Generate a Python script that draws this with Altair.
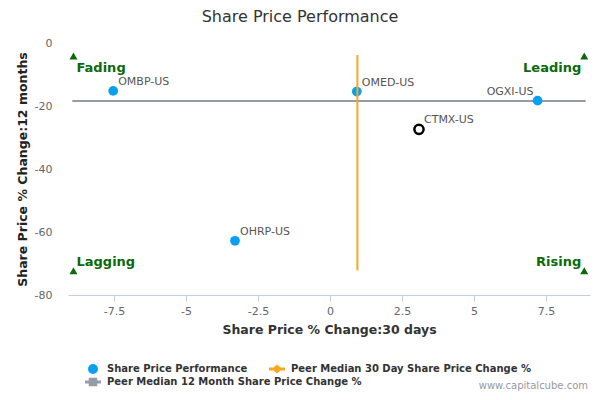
import altair as alt
import pandas as pd

# ---------------- data ----------------
TITLE = "Share Price Performance"
X_TITLE = "Share Price % Change:30 days"
Y_TITLE = "Share Price % Change:12 months"
WATERMARK = "www.capitalcube.com"

peer_names = ["OMBP-US", "OHRP-US", "OMED-US", "OGXI-US"]
peer_x = [-7.53, -3.30, 0.93, 7.21]
peer_y = [-15.2, -62.8, -15.4, -18.3]
label_left_of_point = ["OGXI-US"]

subject_names = ["CTMX-US"]
subject_x = [3.09]
subject_y = [-27.4]

median_30d = 0.95
median_30d_y_span = [-3.8, -72.2]
median_12m = -18.4
median_12m_x_span = [-8.95, 8.88]

quadrant_names = ["Fading", "Leading", "Lagging", "Rising"]
quadrant_x = [-8.91, 8.83, -8.91, 8.83]
quadrant_y = [-4.1, -4.1, -72.3, -72.3]

series_names = [
    "Share Price Performance",
    "Peer Median 30 Day Share Price Change %",
    "Peer Median 12 Month Share Price Change %",
]
series_colors = ["#0AA0F0", "#F7A823", "#959BA7"]
series_shapes = [
    "circle",
    "M-1.6,-0.3L1.6,-0.3L1.6,0.3L-1.6,0.3Z M0,-0.9L1.05,0L0,0.9L-1.05,0Z",
    "M-1.6,-0.3L1.6,-0.3L1.6,0.3L-1.6,0.3Z M-0.85,-0.85L0.85,-0.85L0.85,0.85L-0.85,0.85Z",
]

x_ticks = [-7.5, -5, -2.5, 0, 2.5, 5, 7.5]
y_ticks = [0, -20, -40, -60, -80]
x_domain = [-9.1, 9.03]
y_domain = [-80, 0]

FONT = "DejaVu Sans"
GREEN = "#0A6A0A"

# ---------------- tables ----------------
peers = pd.DataFrame({"name": peer_names, "x": peer_x, "y": peer_y,
                      "series": [series_names[0]] * len(peer_names)})
subject = pd.DataFrame({"name": subject_names, "x": subject_x, "y": subject_y})
vline = pd.DataFrame({"x": [median_30d], "y": [median_30d_y_span[0]], "y2": [median_30d_y_span[1]]})
hline = pd.DataFrame({"y": [median_12m], "x": [median_12m_x_span[0]], "x2": [median_12m_x_span[1]],
                      "series": [series_names[2]]})
quads = pd.DataFrame({"name": quadrant_names, "x": quadrant_x, "y": quadrant_y})
wm = pd.DataFrame({"t": [WATERMARK]})

x_axis = alt.Axis(values=x_ticks, labelExpr="datum.value + ''", title=X_TITLE, grid=False,
                  domainColor="#C0D0E0", tickColor="#C0D0E0", tickSize=6, labelColor="#666666",
                  labelFontSize=11, labelPadding=4, titleFontSize=12.5, titleFontWeight="bold",
                  titleColor="#333333", titlePadding=7)
y_axis = alt.Axis(values=y_ticks, labelExpr="datum.value + ''", title=Y_TITLE, grid=False,
                  domain=False, ticks=False, tickSize=0, labelColor="#666666", labelFontSize=11,
                  labelPadding=16, titleFontSize=12.5, titleFontWeight="bold", titleColor="#222222",
                  titlePadding=5)

xs = alt.Scale(domain=x_domain, nice=False, zero=False)
ys = alt.Scale(domain=y_domain, nice=False, zero=False)


def X(field="x"):
    return alt.X(f"{field}:Q", scale=xs, axis=x_axis)


def Y(field="y"):
    return alt.Y(f"{field}:Q", scale=ys, axis=y_axis)


legend_common = dict(title=None, orient="none", legendX=20, direction="horizontal",
                     labelFont=FONT, labelFontSize=10, labelFontWeight="bold",
                     labelColor="#333333", symbolSize=100, labelOffset=9, columnPadding=21,
                     symbolStrokeWidth=0, padding=0, symbolOpacity=1, labelLimit=0)
legend_a = alt.Legend(legendY=321, **legend_common)
legend_b = alt.Legend(legendY=334, symbolType=series_shapes[2], symbolFillColor=series_colors[2],
                      **legend_common)

grey_line = alt.Chart(hline).mark_rule(strokeWidth=2).encode(
    x=X(), x2="x2:Q", y=Y(),
    stroke=alt.Stroke("series:N", scale=alt.Scale(domain=series_names[2:], range=series_colors[2:]),
                      legend=legend_b),
)

points = alt.Chart(peers).mark_point(filled=True, opacity=1, size=95).encode(
    x=X(), y=Y(),
    color=alt.Color("series:N", scale=alt.Scale(domain=series_names[:2], range=series_colors[:2]),
                    legend=legend_a),
    shape=alt.Shape("series:N", scale=alt.Scale(domain=series_names[:2], range=series_shapes[:2]),
                    legend=legend_a),
)

orange_line = alt.Chart(vline).mark_rule(color=series_colors[1], strokeWidth=2).encode(
    x=X(), y=Y(), y2="y2:Q")

subject_pt = alt.Chart(subject).mark_point(filled=False, color="#000000", strokeWidth=2.5,
                                           size=85, opacity=1, shape="circle").encode(x=X(), y=Y())

lbl_style = dict(fontSize=11, color="#555555", font=FONT, baseline="middle", dy=-9)
peer_lbl_r = alt.Chart(peers).transform_filter(
    ~alt.FieldOneOfPredicate(field="name", oneOf=label_left_of_point)
).mark_text(align="left", dx=5, **lbl_style).encode(x=X(), y=Y(), text="name:N")
peer_lbl_l = alt.Chart(peers).transform_filter(
    alt.FieldOneOfPredicate(field="name", oneOf=label_left_of_point)
).mark_text(align="right", dx=-4, **lbl_style).encode(x=X(), y=Y(), text="name:N")
subj_lbl = alt.Chart(subject).mark_text(align="left", dx=5, **lbl_style).encode(
    x=X(), y=Y(), text="name:N")

tri = alt.Chart(quads).mark_point(shape="triangle-up", filled=True, color=GREEN, size=64,
                                  opacity=1).encode(x=X(), y=Y())


def quad_text(name, align, dx, dy):
    return alt.Chart(quads).transform_filter(alt.datum.name == name).mark_text(
        align=align, dx=dx, dy=dy, baseline="middle", font=FONT, fontSize=13,
        fontWeight="bold", color=GREEN).encode(x=X(), y=Y(), text="name:N")


q_labels = [
    quad_text("Fading", "left", 3, 12),
    quad_text("Leading", "right", -3, 12),
    quad_text("Lagging", "left", 3, -9),
    quad_text("Rising", "right", -3, -9),
]

wm_text = alt.Chart(wm).mark_text(align="right", baseline="middle", fontSize=10, font=FONT,
                                  color="#999999").encode(
    x=alt.value(520), y=alt.value(343), text="t:N")

chart = alt.layer(
    grey_line, points, orange_line, subject_pt, peer_lbl_r, peer_lbl_l, subj_lbl, tri,
    *q_labels, wm_text
).properties(
    width=522, height=252,
    autosize="none",
    padding={"left": 60, "top": 35, "right": 2, "bottom": 97},
    title=alt.TitleParams(TITLE, fontSize=16, fontWeight="normal", color="#333333", font=FONT,
                          anchor="middle", dx=-29, offset=12),
).configure(font=FONT).configure_view(stroke=None)

chart.save("out.html", embed_options={"renderer": "svg", "actions": False})
